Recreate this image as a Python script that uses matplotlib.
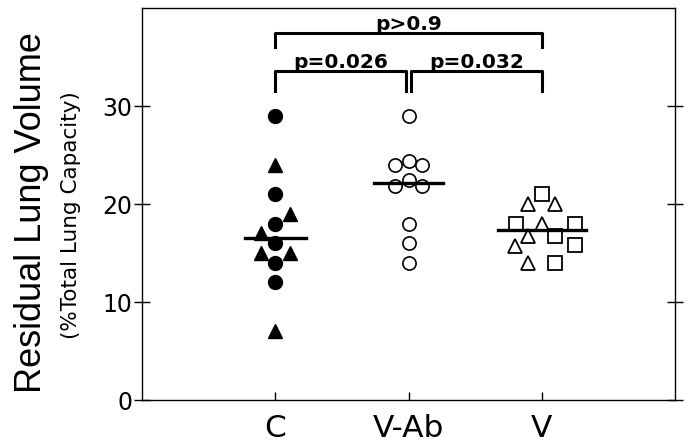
import numpy as np
import matplotlib
matplotlib.use('Agg')
import matplotlib.pyplot as plt

# group names and positions
groups = ['C', 'V-Ab', 'V']
group_x = [1, 2, 3]

# C: filled circles and filled triangles
c_circle = [29, 21, 18, 16, 14, 12]
c_circle_dx = [0, 0, 0, 0, 0, 0]
c_tri = [24, 19, 17, 15, 15, 7]
c_tri_dx = [0, 0.11, -0.11, -0.11, 0.11, 0]

# V-Ab: open circles
vab_circle = [29, 24.4, 24, 24, 22.5, 21.8, 21.8, 18, 16, 14]
vab_circle_dx = [0, 0, -0.1, 0.1, 0, -0.1, 0.1, 0, 0, 0]

# V: open triangles and open squares
v_tri = [20, 20, 18, 16.7, 15.7, 14]
v_tri_dx = [-0.1, 0.1, 0, -0.1, -0.2, -0.1]
v_sq = [21, 18, 18, 16.7, 15.8, 14]
v_sq_dx = [0, -0.19, 0.25, 0.1, 0.25, 0.1]

# comparisons: x1, x2, bar y, leg y, label
brackets = [
  (1.0, 1.98, 33.6, 31.5, 'p=0.026'),
  (2.02, 3.0, 33.6, 31.5, 'p=0.032'),
  (1.0, 3.0, 37.4, 36.0, 'p>0.9'),
]

# prepare figure
fig = plt.figure(figsize=(6.9, 4.42), dpi=100)
ax = fig.add_axes([0.2058, 0.095, 0.7725, 0.8869])

def pts(x0, vals, dx):
  return np.array(dx) + x0, np.array(vals)

x, y = pts(group_x[0], c_circle, c_circle_dx)
ax.plot(x, y, 'o', ms=10, color='black', mec='black', clip_on=False)
x, y = pts(group_x[0], c_tri, c_tri_dx)
ax.plot(x, y, '^', ms=10.5, color='black', mec='black', clip_on=False)

x, y = pts(group_x[1], vab_circle, vab_circle_dx)
ax.plot(x, y, 'o', ms=9.5, mfc='white', mec='black', mew=1.2)

x, y = pts(group_x[2], v_tri, v_tri_dx)
ax.plot(x, y, '^', ms=10.5, mfc='white', mec='black', mew=1.3)
x, y = pts(group_x[2], v_sq, v_sq_dx)
ax.plot(x, y, 's', ms=10.5, mfc='white', mec='black', mew=1.3)

# median lines
medians = [np.median(c_circle + c_tri), np.median(vab_circle), np.median(v_tri + v_sq)]
half_w = [0.23, 0.26, 0.33]
for gx, m, hw in zip(group_x, medians, half_w):
  ax.plot([gx - hw, gx + hw], [m, m], color='black', lw=2.4, zorder=5)

# significance brackets
for x1, x2, yb, yl, lab in brackets:
  ax.plot([x1, x1, x2, x2], [yl, yb, yb, yl], color='black', lw=2.2, clip_on=False)
  ax.text((x1 + x2) / 2, yb - 0.1, lab, ha='center', va='bottom',
          fontsize=14.5, fontweight='bold', family='DejaVu Sans')

ax.set_xlim(0, 4)
ax.set_ylim(0, 40)
ax.set_xticks(group_x)
ax.set_xticklabels(groups, fontsize=22.5, family='DejaVu Sans')
ax.set_yticks([0, 10, 20, 30])
ax.set_yticklabels(['0', '10', '20', '30'], fontsize=17, family='DejaVu Sans')
ax.tick_params(axis='x', direction='in', length=6, width=1, pad=10)
ax.tick_params(axis='y', direction='inout', length=11, width=1, pad=1.5,
               right=True)
for s in ax.spines.values():
  s.set_linewidth(1)

fig.text(0.045, 0.52, 'Residual Lung Volume', rotation=90, ha='center',
         va='center', fontsize=26, family='Liberation Sans')
fig.text(0.103, 0.514, '(%Total Lung Capacity)', rotation=90, ha='center',
         va='center', fontsize=15.5, family='DejaVu Sans')

plt.savefig('out.png', dpi=100)
